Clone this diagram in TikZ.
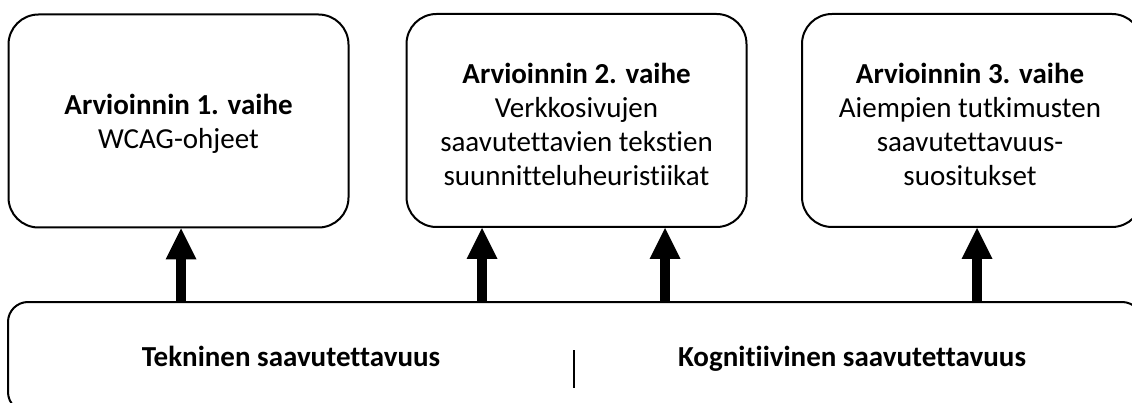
\documentclass[tikz,border=0pt]{standalone}
\usepackage{fontspec}
\setmainfont{Carlito}[Ligatures={NoCommon}]
\usetikzlibrary{arrows.meta}
\begin{document}
\begin{tikzpicture}[x=1pt,y=-1pt,
  topbox/.style={draw, line width=2pt, rounded corners=30pt, minimum width=340pt, minimum height=213pt, inner sep=0pt},
  boxtext/.style={align=center, font=\fontsize{29}{34}\selectfont, inner sep=0pt},
  botbox/.style={draw, line width=2pt, rounded corners=20pt, minimum width=1134pt, minimum height=110pt, inner sep=0pt},
  bottext/.style={font=\fontsize{29}{34}\selectfont\bfseries, inner sep=0pt, anchor=base},
  arr/.style={line width=10pt, -{Triangle[width=31pt,length=31pt,line width=0pt]}},
  divider/.style={line width=2pt}]
\useasboundingbox (0,0) rectangle (1132,403);
\clip (0,0) rectangle (1132,403);
\node[topbox] (b1) at (178.5,121) {};
\node[topbox] (b2) at (576.5,120.5) {};
\node[topbox] (b3) at (972,120.5) {};
\node[boxtext] (l1) at (178.5,124) {\textbf{Arvioinnin 1. vaihe}\\WCAG-ohjeet};
\node[boxtext] (l2) at (576.5,124) {\textbf{Arvioinnin 2. vaihe}\\Verkkosivujen\\saavutettavien tekstien\\suunnitteluheuristiikat};
\node[boxtext] (l3) at (970,124) {\textbf{Arvioinnin 3. vaihe}\\Aiempien tutkimusten\\saavutettavuus-\\suositukset};
\node[botbox] (bot) at (575,357) {};
\node[bottext] (t1) at (291,366) {Tekninen saavutettavuus};
\node[bottext] (t2) at (852,366) {Kognitiivinen saavutettavuus};
\coordinate (a1) at (181,0);
\coordinate (a2) at (482,0);
\coordinate (a3) at (665,0);
\coordinate (a4) at (977,0);
\coordinate (d1) at (574,350);
\coordinate (d2) at (574,388);
\draw[arr] (bot.north -| a1) -- (b1.south -| a1);
\draw[arr] (bot.north -| a2) -- (b2.south -| a2);
\draw[arr] (bot.north -| a3) -- (b2.south -| a3);
\draw[arr] (bot.north -| a4) -- (b3.south -| a4);
\draw[divider] (d1) -- (d2);
\end{tikzpicture}
\end{document}
